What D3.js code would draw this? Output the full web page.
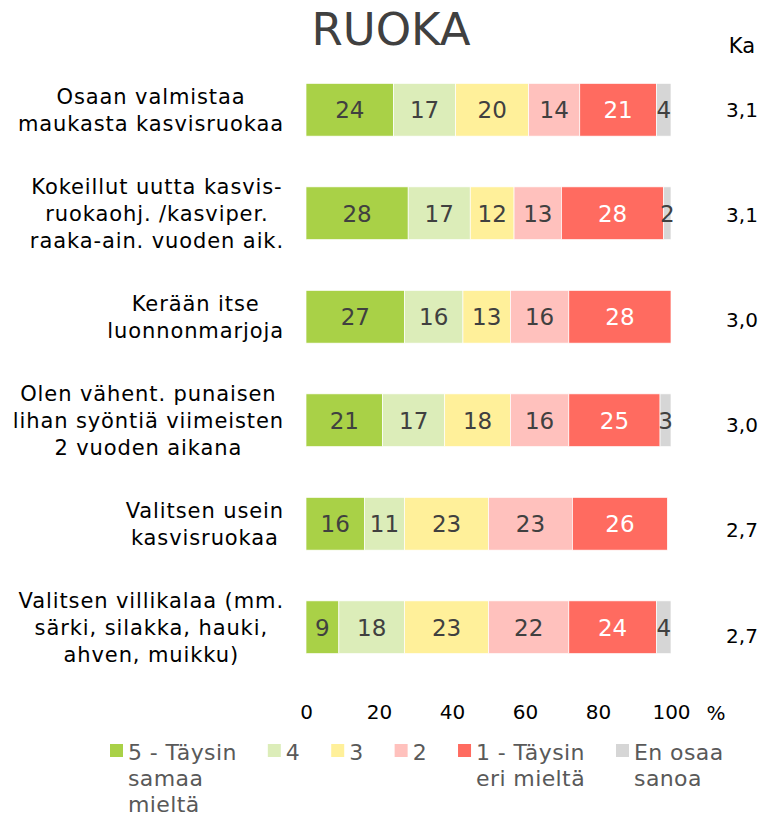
<!DOCTYPE html>
<html>
<head>
<meta charset="utf-8">
<script src="https://cdn.jsdelivr.net/npm/d3@7"></script>
<style>
  body { margin: 0; background: #fff; }
  text { font-family: "DejaVu Sans", sans-serif; }
</style>
</head>
<body>
<svg id="chart" width="763" height="819"></svg>
<script>
// Väittämät (rivitetty kuten kuvassa)
const kategoriat = [
  ["Osaan valmistaa", "maukasta kasvisruokaa"],
  ["Kokeillut uutta kasvis-", "ruokaohj. /kasviper.", "raaka-ain. vuoden aik."],
  ["Kerään itse", "luonnonmarjoja"],
  ["Olen vähent. punaisen", "lihan syöntiä viimeisten", "2 vuoden aikana"],
  ["Valitsen usein", "kasvisruokaa"],
  ["Valitsen villikalaa (mm.", "särki, silakka, hauki,", "ahven, muikku)"]
];

// Prosenttiosuudet vastausvaihtoehdoittain
const taysinSamaa = [24, 28, 27, 21, 16, 9];
const nelonen     = [17, 17, 16, 17, 11, 18];
const kolmonen    = [20, 12, 13, 18, 23, 23];
const kakkonen    = [14, 13, 16, 16, 23, 22];
const taysinEri   = [21, 28, 28, 25, 26, 24];
const enOsaa      = [4, 2, 0, 3, 0, 4];

// Keskiarvot (Ka)
const keskiarvot = [3.1, 3.1, 3.0, 3.0, 2.7, 2.7];

const sarjat = ["s5", "s4", "s3", "s2", "s1", "eos"];
const selitteet = [["5 - Täysin", "samaa", "mieltä"], ["4"], ["3"], ["2"], ["1 - Täysin", "eri mieltä"], ["En osaa", "sanoa"]];
const varit = ["#a9d147", "#dcedb9", "#fff09a", "#ffc1bd", "#ff6b60", "#d6d6d6"];
const xTicks = [0, 20, 40, 60, 80, 100];

var data = kategoriat.map((k, i) => ({
  i: i,
  s5: taysinSamaa[i], s4: nelonen[i], s3: kolmonen[i],
  s2: kakkonen[i], s1: taysinEri[i], eos: enOsaa[i]
}));

var svg = d3.select("#chart");

var x = d3.scaleLinear().domain([0, 100]).range([306, 671]);
var y = d3.scaleBand().domain(d3.range(kategoriat.length)).range([58, 679])
  .paddingInner(0.49).paddingOuter(0.245);
// Ka-sarake on hieman eri välein kuin palkit
var yKa = y.copy().range([57, 688]);
var color = d3.scaleOrdinal().domain(sarjat).range(varit);

// Otsikko
svg.append("text")
  .attr("x", 391).attr("y", 45)
  .attr("text-anchor", "middle")
  .attr("font-size", "45px")
  .attr("fill", "#404040")
  .text("RUOKA");

// Pinotut palkit
var stack = d3.stack().keys(sarjat)(data);

var kerros = svg.append("g").selectAll("g")
  .data(stack)
  .join("g")
  .attr("fill", d => color(d.key));

kerros.selectAll("rect")
  .data(d => d.map(v => Object.assign(v, {key: d.key})))
  .join("rect")
  .attr("x", d => x(d[0]))
  .attr("y", d => y(d.data.i))
  .attr("width", d => x(d[1]) - x(d[0]))
  .attr("height", y.bandwidth())
  .attr("stroke", "#fff")
  .attr("stroke-width", 0.7);

// Arvot palkkien sisään
kerros.selectAll("text")
  .data(d => d.filter(v => v[1] - v[0] > 0))
  .join("text")
  .attr("x", d => (x(d[0]) + x(d[1])) / 2)
  .attr("y", d => y(d.data.i) + y.bandwidth() / 2)
  .attr("dy", "0.36em")
  .attr("text-anchor", "middle")
  .attr("font-size", "23px")
  .attr("fill", d => d.key === "s1" ? "#fff" : "#404040")
  .text(d => d[1] - d[0]);

// Väittämien nimet: lohko tasattu oikealle, rivit keskitetty lohkoon
var rivinKorkeus = 27;
kategoriat.forEach((rivit, i) => {
  var g = svg.append("g");
  var t = g.append("text")
    .attr("font-size", "21px")
    .attr("letter-spacing", "0.9px")
    .attr("fill", "#000")
    .attr("text-anchor", "middle");
  var keski = y(i) + y.bandwidth() / 2;
  var alku = keski - (rivit.length - 1) * rivinKorkeus / 2;
  rivit.forEach((r, j) => {
    t.append("tspan").attr("x", 0).attr("y", alku + j * rivinKorkeus).attr("dy", "0.36em").text(r);
  });
  var w = t.node().getBBox().width;
  t.attr("transform", `translate(${284 - w / 2},0)`);
});

// X-akseli
var akseli = svg.append("g")
  .attr("transform", "translate(0,705)")
  .call(d3.axisBottom(x).tickValues(xTicks).tickSize(0).tickPadding(0));
akseli.select(".domain").remove();
akseli.selectAll("text")
  .attr("font-size", "20px")
  .attr("font-family", "DejaVu Sans, sans-serif")
  .attr("fill", "#000");
svg.append("text")
  .attr("x", 716).attr("y", 713).attr("dy", "0.36em")
  .attr("text-anchor", "middle")
  .attr("font-size", "20px")
  .text("%");

// Keskiarvosarake
svg.append("text")
  .attr("x", 742).attr("y", 45).attr("dy", "0.36em")
  .attr("text-anchor", "middle")
  .attr("font-size", "21px")
  .attr("fill", "#000")
  .text("Ka");
svg.append("g").selectAll("text")
  .data(keskiarvot)
  .join("text")
  .attr("x", 742)
  .attr("y", (d, i) => yKa(i) + yKa.bandwidth() / 2)
  .attr("dy", "0.36em")
  .attr("text-anchor", "middle")
  .attr("font-size", "20px")
  .attr("fill", "#000")
  .text(d => d3.format(".1f")(d).replace(".", ","));

// Selite
var lx = 110;
selitteet.forEach((rivit, i) => {
  var g = svg.append("g").attr("transform", `translate(${lx},0)`);
  g.append("rect")
    .attr("x", 0).attr("y", 744)
    .attr("width", 13).attr("height", 13)
    .attr("fill", varit[i]);
  var t = g.append("text")
    .attr("font-size", "22px")
    .attr("letter-spacing", "0.4px")
    .attr("fill", "#595959");
  rivit.forEach((r, j) => {
    t.append("tspan").attr("x", 18).attr("y", 760 + j * 26).text(r);
  });
  lx += 18 + t.node().getBBox().width + 31;
});
</script>
</body>
</html>
